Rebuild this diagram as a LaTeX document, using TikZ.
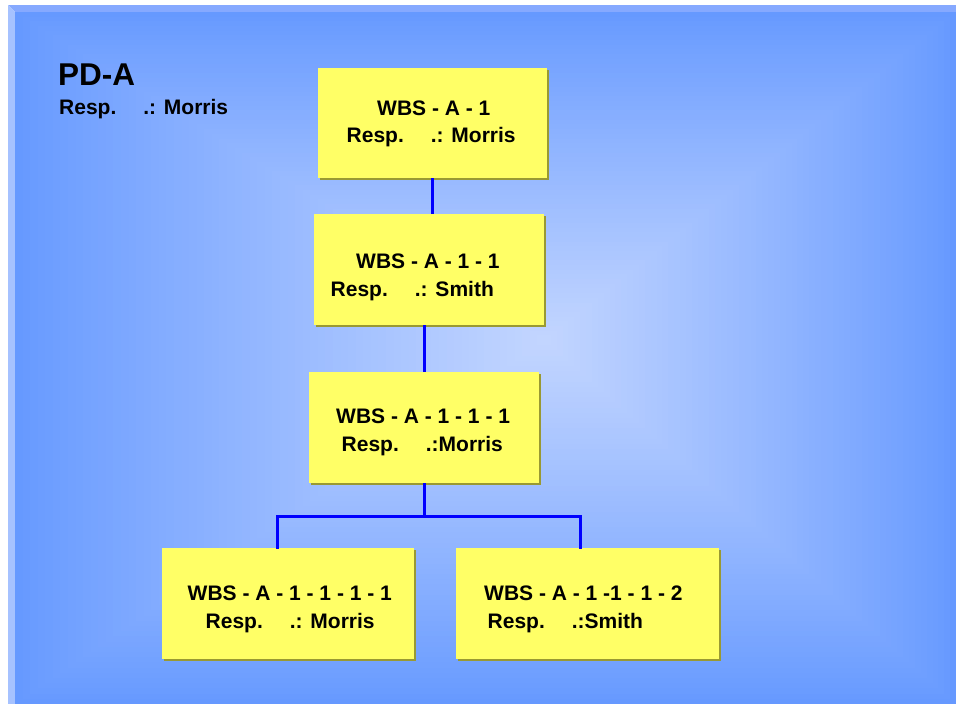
\documentclass[tikz,border=0pt]{standalone}
\usepackage{fontspec}
\setmainfont{Liberation Sans}
\usetikzlibrary{shadows}
\definecolor{bgb}{HTML}{6699FF}
\definecolor{bgc}{HTML}{C2D5FF}
\definecolor{topstrip}{HTML}{86A9FF}
\definecolor{leftstrip}{HTML}{A6C2FF}
\definecolor{boxfill}{HTML}{FFFF66}
\definecolor{shadowc}{HTML}{999933}
\definecolor{connc}{HTML}{0000FF}
\tikzset{
  wbsbox/.style={draw=none, fill=boxfill, rectangle, inner sep=0pt,
    drop shadow={shadow xshift=2pt, shadow yshift=-2pt, fill=shadowc, opacity=1}},
  wbstext/.style={anchor=base west, inner sep=0pt, font=\fontsize{21}{25}\selectfont\bfseries},
  conn/.style={draw=connc, line width=3pt},
}
\newcommand\rgap{\hspace{27pt}}
\begin{document}
\begin{tikzpicture}[x=1pt,y=-1pt]
\useasboundingbox (0,0) rectangle (956,704);
\fill[white] (0,0) rectangle (956,704);
\fill[topstrip] (8,5) -- (956,5) -- (956,12) -- (15,12) -- cycle;
\fill[leftstrip] (8,5) -- (15,12) -- (15,704) -- (8,704) -- cycle;
% rectangular gradient
\foreach \i in {0,...,69}{
  \pgfmathsetmacro\s{1-\i/70}
  \pgfmathsetmacro\p{100*(\i/69)^0.9}
  \colorlet{cc}{bgc!\p!bgb}
  \fill[cc] ({545+\s*(15-545)},{340+\s*(12-340)}) rectangle ({545+\s*(956-545)},{340+\s*(704-340)});
}
% title
\node[anchor=base west, inner sep=0pt, font=\fontsize{31.5}{36}\selectfont\bfseries] (title) at (58,85) {PD-A};
\node[wbstext] (titleresp) at (59,114) {Resp.\rgap.: Morris};
% boxes
\node[wbsbox, minimum width=229pt, minimum height=110pt] (b1) at (432.5,123) {};
\node[wbsbox, minimum width=230pt, minimum height=111pt] (b2) at (429,269.5) {};
\node[wbsbox, minimum width=230pt, minimum height=111pt] (b3) at (424,427.5) {};
\node[wbsbox, minimum width=252pt, minimum height=111pt] (b4) at (288,603.5) {};
\node[wbsbox, minimum width=263pt, minimum height=111pt] (b5) at (587.5,603.5) {};
% texts
\node[wbstext] (t1a) at (377,115) {WBS - A - 1};
\node[wbstext] (t1b) at (346.5,142) {Resp.\rgap.: Morris};
\node[wbstext] (t2a) at (356,268) {WBS - A - 1 - 1};
\node[wbstext] (t2b) at (330.5,296) {Resp.\rgap.: Smith};
\node[wbstext] (t3a) at (336,423) {WBS - A - 1 - 1 - 1};
\node[wbstext] (t3b) at (341.5,451) {Resp.\rgap.:Morris};
\node[wbstext] (t4a) at (187.5,600) {WBS - A - 1 - 1 - 1 - 1};
\node[wbstext] (t4b) at (205.5,628) {Resp.\rgap.: Morris};
\node[wbstext] (t5a) at (484,600) {WBS - A - 1 -1 - 1 - 2};
\node[wbstext] (t5b) at (487.5,628) {Resp.\rgap.:Smith};
% connectors
\coordinate (c12) at (432,0);
\coordinate (c23) at (424,0);
\coordinate (j) at (424,516);
\coordinate (jl) at (277,516);
\coordinate (jr) at (580,516);
\draw[conn] (c12 |- b1.south) -- (c12 |- b2.north);
\draw[conn] (c23 |- b2.south) -- (c23 |- b3.north);
\draw[conn] (c23 |- b3.south) -- (j);
\draw[conn, line cap=rect] (jl |- b4.north) -- (jl) -- (jr) -- (jr |- b5.north);
\end{tikzpicture}
\end{document}
